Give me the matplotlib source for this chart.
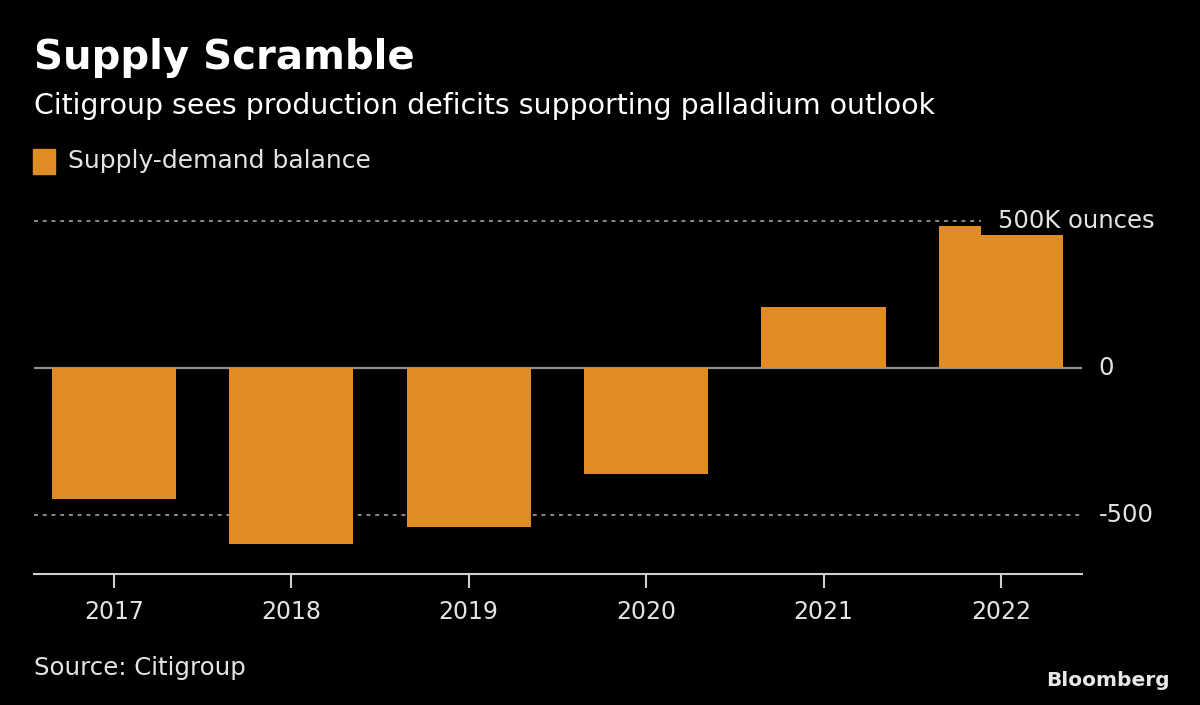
import matplotlib
matplotlib.use("Agg")
import matplotlib.pyplot as plt
from matplotlib.patches import Rectangle

years = ["2017", "2018", "2019", "2020", "2021", "2022"]
balance = [-447, -600, -543, -362, 208, 485]
ytick_vals = [-500, 0, 500]

BG = "black"
ORANGE = "#df8c27"
TXT = "#e3e3e3"
GRID = "#8a8a8a"

W, H = 1200, 705
fig = plt.figure(figsize=(W / 100, H / 100), dpi=100, facecolor=BG)

def fx(px):
    return px / W

def fy(py):
    return 1 - py / H

ax = fig.add_axes([fx(34), fy(574), fx(1082) - fx(34), fy(200) - fy(574)])
ax.set_facecolor(BG)
x = list(range(len(years)))
ax.bar(x, balance, width=0.70, color=ORANGE, zorder=2)
ax.set_xlim(-0.45, len(years) - 1 + 0.457)
ax.set_ylim(-703, 573)

# gridlines
for v in ytick_vals:
    if v == 0:
        ax.axhline(0, color="#8f8f8f", lw=1.6, zorder=1)
    else:
        ax.axhline(v, color=GRID, lw=1.4, ls=(0, (2, 2.5)), zorder=1)

for s in ["top", "right", "left"]:
    ax.spines[s].set_visible(False)
ax.spines["bottom"].set_color("#cfcfcf")
ax.spines["bottom"].set_linewidth(1.5)
ax.spines["bottom"].set_position(("data", -703))
ax.set_yticks([])
ax.set_xticks(x)
ax.set_xticklabels(years, color=TXT, fontsize=17)
ax.tick_params(axis="x", colors="#cfcfcf", length=10, width=1.5, pad=9, labelcolor=TXT)

# y labels on right
ax.text(1.016, 0, "0", transform=ax.get_yaxis_transform(), color=TXT,
        fontsize=17.5, ha="left", va="center")
ax.text(1.016, -500, "-500", transform=ax.get_yaxis_transform(), color=TXT,
        fontsize=17.5, ha="left", va="center")

# black box behind the top label (covers gridline end and bar corner)
fig.patches.append(Rectangle((fx(981), fy(235)), fx(1165) - fx(981), fy(200) - fy(235),
                             transform=fig.transFigure, facecolor=BG, edgecolor="none",
                             zorder=3))
fig.text(fx(1155), fy(221), "500K ounces", color=TXT,
         fontsize=17.5, ha="right", va="center", zorder=5)

# titles
fig.text(fx(34), fy(58), "Supply Scramble", color="white", fontsize=29,
         fontweight="bold", ha="left", va="center")
fig.text(fx(34), fy(106), "Citigroup sees production deficits supporting palladium outlook",
         color="white", fontsize=20.4, ha="left", va="center")

# legend
fig.patches.append(Rectangle((fx(33), fy(174)), fx(22), fy(149) - fy(174),
                             transform=fig.transFigure, color=ORANGE))
fig.text(fx(68), fy(161), "Supply-demand balance", color=TXT, fontsize=18,
         ha="left", va="center")

fig.text(fx(34), fy(668), "Source: Citigroup", color=TXT, fontsize=17.6,
         ha="left", va="center")
fig.text(fx(1170), fy(680), "Bloomberg", color="#e8e8e8", fontsize=14.5,
         fontweight="bold", ha="right", va="center")

fig.savefig("out.png", dpi=100, facecolor=BG)
